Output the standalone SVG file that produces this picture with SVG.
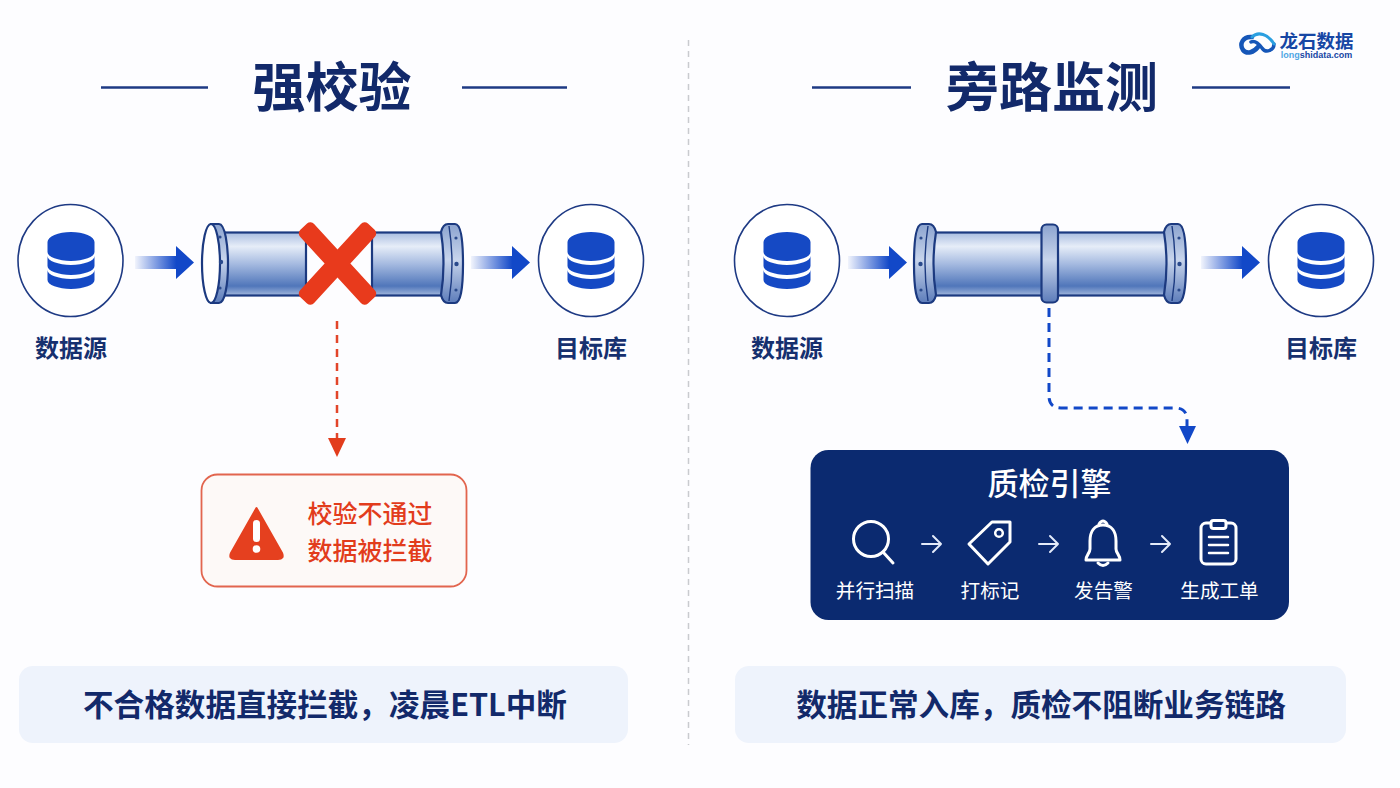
<svg xmlns="http://www.w3.org/2000/svg" width="1400" height="788" viewBox="0 0 1400 788">
  <style>
    text { font-family: "Noto Sans CJK SC", "Noto Sans", sans-serif; text-anchor: middle; dominant-baseline: central; }
    .title { font-size: 53px; font-weight: 700; fill: #12296a; }
    .rule { stroke: #1e3a84; stroke-width: 2.5; fill: none; }
    .label { font-size: 24px; font-weight: 700; fill: #16306f; }
    .note { font-size: 30.6px; font-weight: 700; fill: #12296a; }
    .panel { fill: #eef3fc; }
    .warn { font-size: 25px; font-weight: 500; fill: #e23c1c; }
    .step { font-size: 19.6px; font-weight: 400; fill: #ffffff; }
    .line-icon { fill: none; stroke: #ffffff; stroke-width: 3; stroke-linecap: round; stroke-linejoin: round; }
    .pipe-edge { stroke: #1c3a80; stroke-width: 2.2; }
    .bolt { fill: #2a4a8c; }
    .ring { fill: #ffffff; stroke: #1e3a84; stroke-width: 1.6; }
  </style>
  <defs>
    <linearGradient id="pipeFill" x1="0" y1="0" x2="0" y2="1">
      <stop offset="0" stop-color="#a9bde0"/>
      <stop offset="0.22" stop-color="#e6edf8"/>
      <stop offset="0.5" stop-color="#a5bae0"/>
      <stop offset="0.85" stop-color="#5076ba"/>
      <stop offset="1" stop-color="#a3b8dd"/>
    </linearGradient>
    <linearGradient id="flangeFill" x1="0" y1="0" x2="0" y2="1">
      <stop offset="0" stop-color="#8ba3cf"/>
      <stop offset="0.45" stop-color="#c8d5ec"/>
      <stop offset="1" stop-color="#5c7cba"/>
    </linearGradient>
    <linearGradient id="flowFill" x1="0" y1="0" x2="1" y2="0">
      <stop offset="0" stop-color="#1248c8" stop-opacity="0.05"/>
      <stop offset="0.7" stop-color="#1248c8"/>
      <stop offset="1" stop-color="#1248c8"/>
    </linearGradient>
    <g id="db">
      <path fill="#1549c4" d="M-23.500 -18A23.500 10 0 0 1 23.500 -18V-8A23.500 9 0 0 1 -23.500 -8Z"/>
      <path fill="#1549c4" d="M-23.500 -4A23.500 9 0 0 0 23.500 -4V6A23.500 9 0 0 1 -23.500 6Z"/>
      <path fill="#1549c4" d="M-23.500 10A23.500 9 0 0 0 23.500 10V20A23.500 9 0 0 1 -23.500 20Z"/>
    </g>
    <path id="flow" fill="url(#flowFill)" d="M0 -6.500H41V-16.500L59 0L41 16.500V6.500H0Z"/>
    <g id="flange">
      <path class="pipe-edge" fill="url(#flangeFill)" d="M8 -40H15Q20 -40 22 -32Q17 0 22 31Q20 39 15 39H8Q0 39 0 0Q0 -40 8 -40Z"/>
      <path d="M14 -38Q8 0 14 37" fill="none" stroke="#1c3a80" stroke-width="1.4"/>
      <circle class="bolt" cx="6.500" cy="0" r="2.200"/>
      <circle class="bolt" cx="7" cy="-26" r="1.600"/>
      <circle class="bolt" cx="7" cy="26" r="1.600"/>
    </g>
  </defs>

  <rect width="1400" height="788" fill="#fdfdff"/>
  <line x1="688.500" y1="40" x2="688.500" y2="745" stroke="#c9cbcf" stroke-width="1.500" stroke-dasharray="6 5"/>

  <!-- Section headings -->
  <g id="heading-left">
    <line class="rule" x1="101" y1="87.500" x2="208" y2="87.500"/>
    <line class="rule" x1="462" y1="87.500" x2="567" y2="87.500"/>
    <text class="title" x="332" y="83.500">强校验</text>
  </g>
  <g id="heading-right">
    <line class="rule" x1="812" y1="87.500" x2="911" y2="87.500"/>
    <line class="rule" x1="1192" y1="87.500" x2="1290" y2="87.500"/>
    <text class="title" x="1052" y="83.500">旁路监测</text>
  </g>

  <!-- Brand mark -->
  <g id="logo">
    <g fill="none" stroke-linecap="round">
      <path d="M1252 37C1243 36 1239 44 1243 50C1247 55 1254 52 1258 47" stroke="#1556b8" stroke-width="4.500"/>
      <path d="M1251 42C1255 40 1259 44 1262 48C1266 54 1274 50 1274 44" stroke="#1556b8" stroke-width="3.500"/>
      <path d="M1252 37C1258 31 1268 34 1274 44" stroke="#2a9fe0" stroke-width="3"/>
    </g>
    <text x="1316.500" y="39.500" font-size="18.500" font-weight="700" fill="#1646a4">龙石数据</text>
    <text x="1316.500" y="55" font-size="9" font-weight="700" fill="#1646a4" style="font-family: 'Liberation Sans', sans-serif"><tspan fill="#4fa6e4">long</tspan>shidata.com</text>
  </g>

  <!-- Blocking check -->
  <g id="source-left">
    <ellipse class="ring" cx="70.500" cy="260.500" rx="52.500" ry="56"/>
    <use href="#db" x="71" y="260"/>
    <text class="label" x="71" y="346">数据源</text>
  </g>
  <g id="pipe-left">
    <rect class="pipe-edge" x="224" y="232.500" width="82" height="63" fill="url(#pipeFill)"/>
    <rect class="pipe-edge" x="372" y="232.500" width="72" height="63" fill="url(#pipeFill)"/>
    <path class="pipe-edge" fill="url(#flangeFill)" d="M211 224H219C225 224 228 245 228 264C228 284 225 303 219 303H211Z"/>
    <ellipse class="pipe-edge" cx="211" cy="263.500" rx="9" ry="39.500" fill="#ffffff"/>
    <circle class="bolt" cx="221" cy="262" r="2.200"/>
    <circle class="bolt" cx="220" cy="237" r="1.600"/>
    <circle class="bolt" cx="220" cy="288" r="1.600"/>
    <use href="#flange" transform="translate(463 264) scale(-1 1)"/>
    <g fill="#e83a1c" transform="translate(337.500 263.500)">
      <rect x="-50" y="-9.500" width="100" height="19" rx="5" transform="rotate(47.500)"/>
      <rect x="-50" y="-9.500" width="100" height="19" rx="5" transform="rotate(-47.500)"/>
    </g>
  </g>
  <g id="target-left">
    <ellipse class="ring" cx="591" cy="260.500" rx="52.500" ry="56"/>
    <use href="#db" x="591" y="260"/>
    <text class="label" x="591" y="346">目标库</text>
  </g>
  <g id="alert">
    <rect x="201.500" y="474.500" width="265" height="112" rx="16" fill="#fdf9f7" stroke="#e2654e" stroke-width="1.800"/>
    <path d="M256.500 508L282 553Q284.500 559 278 559H235Q228.500 559 231 553Z" fill="#e5401f" stroke="#e5401f" stroke-width="2" stroke-linejoin="round"/>
    <rect x="253" y="520" width="7" height="22" rx="3.500" fill="#ffffff"/>
    <circle cx="256.500" cy="549" r="3.800" fill="#ffffff"/>
    <text class="warn" x="370" y="512">校验不通过</text>
    <text class="warn" x="370" y="549">数据被拦截</text>
  </g>
  <g id="note-left">
    <rect class="panel" x="19" y="666" width="609" height="77" rx="14"/>
    <text class="note" x="325" y="703">不合格数据直接拦截，凌晨ETL中断</text>
  </g>

  <!-- Bypass monitoring -->
  <g id="source-right">
    <ellipse class="ring" cx="787" cy="260.500" rx="52.500" ry="56"/>
    <use href="#db" x="787" y="260"/>
    <text class="label" x="787" y="346">数据源</text>
  </g>
  <g id="pipe-right">
    <rect class="pipe-edge" x="928" y="232.500" width="245" height="63" fill="url(#pipeFill)"/>
    <use href="#flange" transform="translate(914 264)"/>
    <use href="#flange" transform="translate(1186 264) scale(-1 1)"/>
    <rect class="pipe-edge" x="1041.500" y="224.500" width="16.500" height="78" rx="5" fill="url(#flangeFill)"/>
  </g>
  <g id="target-right">
    <ellipse class="ring" cx="1321" cy="260.500" rx="52.500" ry="56"/>
    <use href="#db" x="1321" y="260"/>
    <text class="label" x="1321" y="346">目标库</text>
  </g>
  <g id="engine">
    <rect x="810.500" y="450" width="478.500" height="170" rx="18" fill="#0b2a70"/>
    <text x="1049.500" y="481" font-size="31" font-weight="500" fill="#ffffff">质检引擎</text>
    <g class="line-icon">
      <circle cx="871" cy="539" r="17.500"/>
      <path d="M883 552L893 563"/>
      <path d="M992 522H1010V542L988 564L969 544Z"/>
      <circle cx="999" cy="533" r="3.800" stroke-width="2.500"/>
      <path d="M1103 525C1094 525 1090 532 1090 541V549C1090 553 1086 555 1086 560H1120C1120 555 1116 553 1116 549V541C1116 532 1112 525 1103 525Z"/>
      <path d="M1099 524Q1103 518 1107 524M1098 563Q1103 568 1108 563"/>
      <rect x="1201" y="523" width="35" height="41" rx="5"/>
      <rect x="1211" y="520.500" width="15" height="8" rx="2.500" fill="#0b2a70"/>
      <path d="M1209 537H1228M1209 545H1228M1209 553H1228" stroke-width="2.500"/>
    </g>
    <g fill="none" stroke="#e4ebfa" stroke-width="2" stroke-linecap="round" stroke-linejoin="round">
      <path d="M922 544H941M933 536L941 544L933 552"/>
      <path d="M1039 544H1058M1050 536L1058 544L1050 552"/>
      <path d="M1151 544H1170M1162 536L1170 544L1162 552"/>
    </g>
    <text class="step" x="875" y="589">并行扫描</text>
    <text class="step" x="990" y="589">打标记</text>
    <text class="step" x="1103.500" y="589">发告警</text>
    <text class="step" x="1219.500" y="589">生成工单</text>
  </g>
  <g id="note-right">
    <rect class="panel" x="735" y="666" width="611" height="77" rx="14"/>
    <text class="note" x="1041" y="703">数据正常入库，质检不阻断业务链路</text>
  </g>

  <!-- Connectors -->
  <g id="connectors">
    <use href="#flow" x="135" y="262.500"/>
    <use href="#flow" x="471" y="262.500"/>
    <use href="#flow" x="848" y="262.500"/>
    <use href="#flow" x="1201" y="262.500"/>
    <path d="M337 321V438" fill="none" stroke="#e2452a" stroke-width="2.500" stroke-dasharray="8 6"/>
    <path d="M328 438H346L337 457Z" fill="#e23c1c"/>
    <path d="M1049 308V396Q1049 408 1061 408H1175Q1187 408 1187 420V428" fill="none" stroke="#1248c8" stroke-width="3" stroke-dasharray="9 6"/>
    <path d="M1179 426H1196L1187.500 444Z" fill="#1248c8"/>
  </g>
</svg>
